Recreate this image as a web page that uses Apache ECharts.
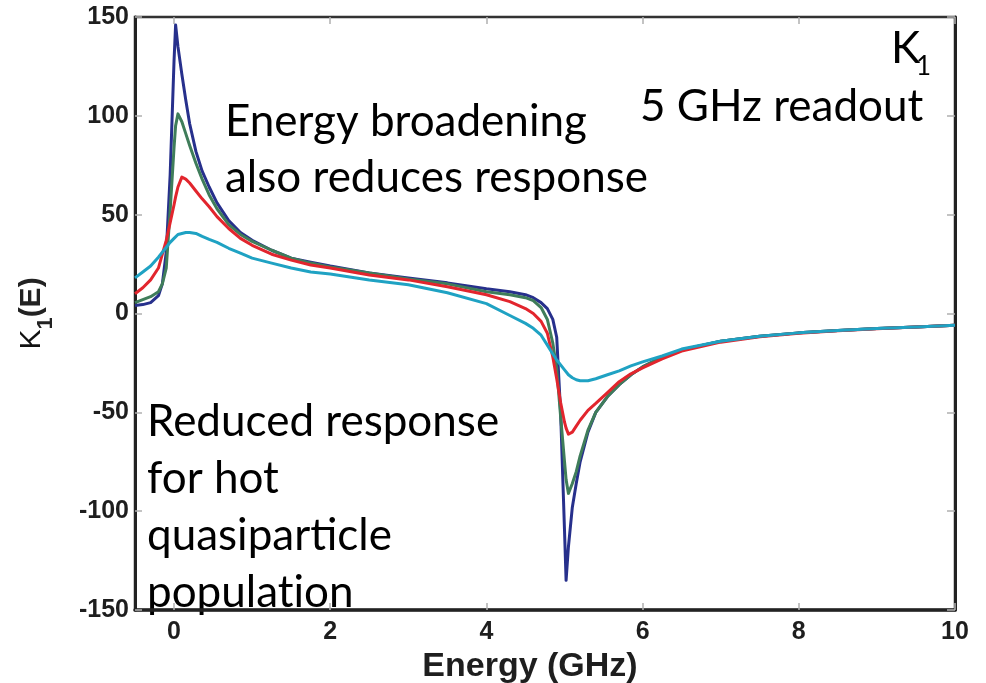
<!DOCTYPE html>
<html>
<head>
<meta charset="utf-8">
<script src="https://cdn.jsdelivr.net/npm/echarts@6/dist/echarts.min.js"></script>
<style>
  html, body { margin: 0; padding: 0; background: #ffffff; }
  #chart { width: 986px; height: 683px; }
</style>
</head>
<body>
<div id="chart"></div>
<script>
// Energy grid (GHz), shared by all four response curves
const energy = [
  -0.5, -0.4, -0.3, -0.2, -0.15, -0.1, -0.05, 0, 0.02, 0.05,
  0.1, 0.15, 0.2, 0.28, 0.36, 0.45, 0.55, 0.7, 0.85, 1.0,
  1.25, 1.5, 1.75, 2, 2.5, 3, 3.5, 4, 4.3, 4.5,
  4.6, 4.7, 4.78, 4.85, 4.9, 4.95, 5.0, 5.02, 5.05, 5.1,
  5.15, 5.2, 5.3, 5.4, 5.55, 5.7, 5.85, 6.0, 6.25, 6.5,
  7, 7.5, 8, 8.5, 9, 9.5, 10
];

// K1(E) for increasing broadening / quasiparticle temperature
const kNavy = [
  4, 4.5, 5.5, 9, 15, 31, 70, 128, 146, 135,
  121, 108, 96, 82, 72, 64, 56, 47, 41, 37,
  32, 28, 26, 24, 20.5, 18, 15.5, 12.5, 11, 9.5,
  8, 5.5, 2.5, -3, -12, -50, -110, -135, -118, -98,
  -86, -75, -60, -50, -42, -36, -31, -27, -22, -18.5,
  -14, -11.5, -9.8, -8.6, -7.6, -6.8, -6
];
const kGreen = [
  5.5, 7, 8.5, 11, 15, 23, 52, 84, 95, 101,
  97, 91, 85, 76, 68, 60, 53, 45, 40, 36.5,
  32, 28, 25.5, 23.5, 20.5, 17.5, 15, 11, 9.5, 8,
  6.5, 3, -3, -15, -28, -52, -75, -84, -91, -86,
  -80, -72, -59, -50, -42, -36, -31, -27, -22, -18.5,
  -14, -11.5, -9.8, -8.6, -7.6, -6.8, -6
];
const kRed = [
  10, 13, 17, 23, 30, 37, 46, 55, 59, 64,
  69, 68, 66, 62, 58, 54, 49, 43, 38, 34.5,
  30, 27, 24.5, 23, 19.5, 17, 13.5, 9.5, 6, 2.5,
  0, -4, -10, -22, -33, -45, -55, -58, -61, -60,
  -57, -54, -49, -45.5, -40, -34.5, -30.5, -27.5, -23, -19,
  -14.5, -11.8, -10, -8.7, -7.7, -6.8, -6
];
const kCyan = [
  18, 21, 24, 28.5, 31, 33.5, 36, 38, 39, 40,
  40.5, 41, 41, 40.5, 39, 37.5, 36, 33, 30.5, 28,
  25.5, 23, 21, 20, 17, 14.5, 10.5, 5, -1, -5,
  -7.5, -11, -16, -20.5, -23.5, -26, -28.5, -29.5, -31, -32.5,
  -33.5, -34, -34, -33, -31, -29, -26.5, -24.5, -21.5, -18,
  -14, -11.5, -9.8, -8.6, -7.6, -6.8, -6
];

const xTickValues = [0, 2, 4, 6, 8, 10];

function pairs(ys) {
  return energy.map((e, i) => [e, ys[i]]);
}

const tickFont = { fontFamily: 'Liberation Sans', fontWeight: 'bold', fontSize: 25, color: '#1e1e1e' };
const annotFont = '44px Lato';

const chart = echarts.init(document.getElementById('chart'), null, { renderer: 'canvas' });

function curve(name, ys, color) {
  return {
    name: name,
    type: 'line',
    xAxisIndex: 0,
    yAxisIndex: 0,
    data: pairs(ys),
    showSymbol: false,
    symbol: 'none',
    smooth: false,
    lineStyle: { color: color, width: 3, join: 'round' },
    animation: false
  };
}

function note(text, x, y, font) {
  return {
    type: 'text', x: x, y: y,
    style: { text: text, font: font || annotFont, fill: '#000', textVerticalAlign: 'middle', verticalAlign: 'middle' }
  };
}

chart.setOption({
  animation: false,
  backgroundColor: '#ffffff',
  grid: {
    left: 135, right: 31, top: 17, bottom: 73,
    outerBoundsMode: 'none',
    containLabel: false,
    show: true, borderColor: '#2a2a2a', borderWidth: 2.5
  },
  xAxis: [
    {
      type: 'value', min: -0.5, max: 10, position: 'bottom',
      axisLine: { show: true, onZero: false, lineStyle: { color: '#222', width: 3.5 } },
      axisTick: { show: true, inside: true, length: 7, customValues: xTickValues, lineStyle: { color: '#b0b0b0', width: 1.5 } },
      axisLabel: Object.assign({ customValues: xTickValues, margin: 10 }, tickFont),
      splitLine: { show: false },
      name: 'Energy (GHz)',
      nameLocation: 'middle',
      nameGap: 33,
      nameTextStyle: { fontFamily: 'Liberation Sans', fontWeight: 'bold', fontSize: 34, color: '#1e1e1e', padding: [0, 30, 0, 0] }
    },
    {
      type: 'value', min: -0.5, max: 10, position: 'top',
      axisLine: { show: true, onZero: false, lineStyle: { color: '#333', width: 2 } },
      axisTick: { show: true, inside: true, length: 7, customValues: xTickValues, lineStyle: { color: '#b0b0b0', width: 1.5 } },
      axisLabel: { show: false },
      splitLine: { show: false }
    }
  ],
  yAxis: [
    {
      type: 'value', min: -150, max: 150, interval: 50, position: 'left',
      axisLine: { show: true, onZero: false, lineStyle: { color: '#222', width: 3 } },
      axisTick: { show: true, inside: true, length: 7, lineStyle: { color: '#b0b0b0', width: 1.5 } },
      axisLabel: Object.assign({ margin: 6 }, tickFont),
      splitLine: { show: false },
      name: '{k|K}{s|1}{e|(E)}',
      nameLocation: 'middle',
      nameGap: 78,
      nameRotate: 90,
      nameTextStyle: {
        rich: {
          k: { fontFamily: 'Liberation Sans', fontSize: 30, color: '#111', verticalAlign: 'top', lineHeight: 40 },
          s: { fontFamily: 'Liberation Sans', fontWeight: 'bold', fontSize: 22, color: '#222', verticalAlign: 'bottom', lineHeight: 40 },
          e: { fontFamily: 'Liberation Sans', fontWeight: 'bold', fontSize: 30, color: '#222', verticalAlign: 'top', lineHeight: 40 }
        }
      }
    },
    {
      type: 'value', min: -150, max: 150, interval: 50, position: 'right',
      axisLine: { show: true, onZero: false, lineStyle: { color: '#222', width: 3 } },
      axisTick: { show: true, inside: true, length: 8, lineStyle: { color: '#b0b0b0', width: 1.5 } },
      axisLabel: { show: false },
      splitLine: { show: false }
    }
  ],
  series: [
    curve('narrow', kNavy, '#27308c'),
    curve('medium', kGreen, '#3f7d5a'),
    curve('wide', kRed, '#e2252d'),
    curve('hot', kCyan, '#1fa2c3')
  ],
  graphic: [
    note('Energy broadening', 225, 122),
    note('also reduces response', 225, 178),
    note('K', 891, 49),
    note('1', 916, 67, '26px Lato'),
    note('5 GHz readout', 640, 107),
    note('Reduced response', 147, 422),
    note('for hot', 147, 479),
    note('quasipar\u200Cticle', 147, 536),
    note('populat\u200Cion', 147, 593)
  ]
});
</script>
</body>
</html>
